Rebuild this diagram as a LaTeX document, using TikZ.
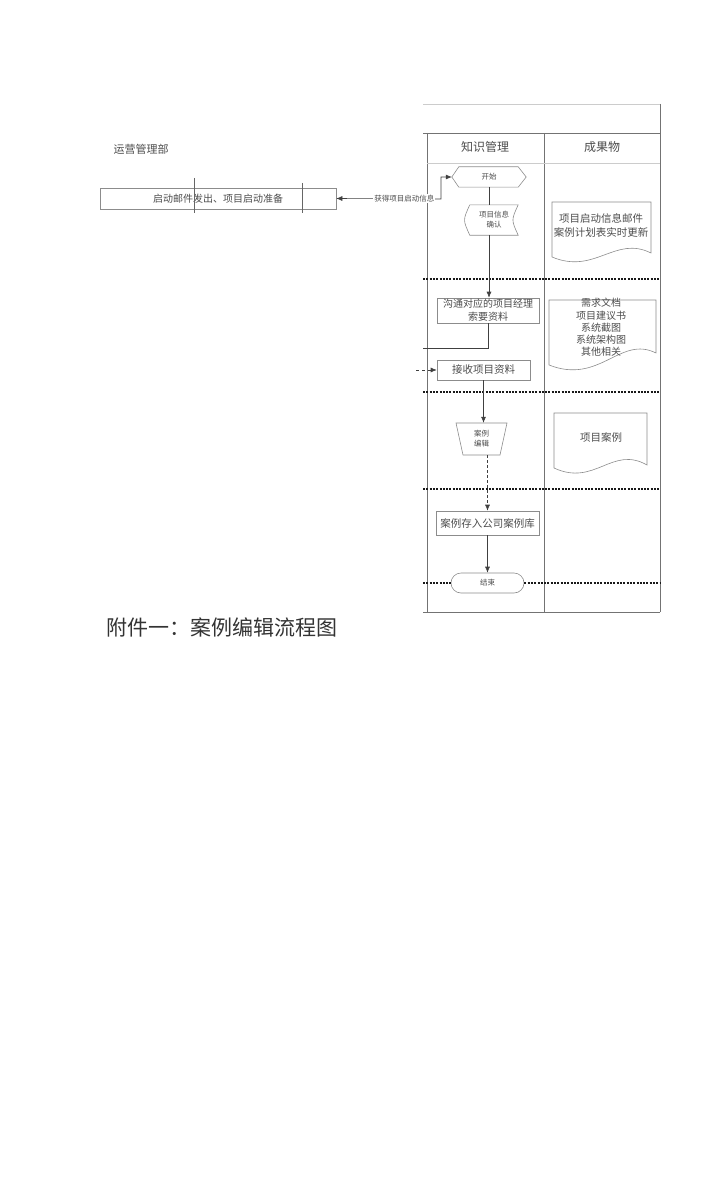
\documentclass[tikz,border=0pt]{standalone}
\usepackage{fontspec}
\newfontfamily\cjk{Noto Sans CJK SC}
\usetikzlibrary{arrows.meta}

\begin{document}
\begin{tikzpicture}[x=1pt,y=-1pt,
	lane/.style={draw=black!55, line width=0.8pt},
	sep/.style={draw=black!90, line width=2.6pt, dash pattern=on 2pt off 1.3pt},
	txt/.style={text=black!70, font=\cjk\fontsize{10}{13}\selectfont, align=center, inner sep=0pt},
	small/.style={txt, font=\cjk\fontsize{7.5}{10}\selectfont},
	box/.style={txt, draw=black!45, line width=0.6pt},
	flow/.style={draw=black!75, line width=0.6pt},
	arr/.style={flow, -{Latex[length=6pt,width=5pt]}},
	lbl/.style={small, fill=white, inner sep=1pt}]
	\useasboundingbox (0,0) rectangle (720,1185);
	% swimlanes
	\draw[lane, black!20] (423,104) -- (660,104);
	\draw[lane] (660,104) -- (660,612);
	\draw[lane] (423,133) -- (660,133);
	\draw[lane] (427,133) -- (427,612);
	\draw[lane] (544,133) -- (544,612);
	\draw[lane, black!20] (427,163) -- (660,163);
	\draw[lane] (423,612) -- (660,612);
	\node[txt, font=\cjk\fontsize{12}{14}\selectfont] (km) at (485,147) {知识管理};
	\node[txt, font=\cjk\fontsize{12}{14}\selectfont] (outp) at (602,147) {成果物};
	\draw[sep] (423,279) -- (660,279);
	\draw[sep] (423,392) -- (660,392);
	\draw[sep] (423,489) -- (660,489);

	% left department
	\node[txt, font=\cjk\fontsize{11}{13}\selectfont] (dept) at (141,149) {运营管理部};
	\node[box, minimum width=236, minimum height=21] (launch) at (218,198.5) {启动邮件发出、项目启动准备};
	\draw[black!60] (194,178) -- (194,213);
	\draw[black!60] (302,183) -- (302,213);

	% flow nodes
	\node[small, minimum width=74, minimum height=20] (start) at (489,177) {开始};
	\draw[black!45, line width=0.6pt] (start.west) -- ([xshift=7]start.north west) -- ([xshift=-8]start.north east)
		-- (start.east) -- ([xshift=-8]start.south east) -- ([xshift=7]start.south west) -- cycle;
	\node[small, minimum width=48, minimum height=30] (info) at (494,220) {项目信息\\确认};
	\draw[black!45, line width=0.6pt] (info.north west) -- (info.north east) .. controls ([xshift=-7]info.east) .. (info.south east)
		-- (info.south west) .. controls ([xshift=-7]info.west) .. (info.north west);
	\node[box, minimum width=102, minimum height=25] (comm) at (488,310.5) {沟通对应的项目经理\\索要资料};
	\node[box, minimum width=93, minimum height=20, font=\cjk\fontsize{10.5}{13}\selectfont] (recv) at (483.5,370) {接收项目资料};
	\node[small, minimum width=51, minimum height=32] (edit) at (481.5,439) {案例\\编辑};
	\draw[black!45, line width=0.6pt] (456,423) -- (507,423) -- (500,455) -- (463,455) -- cycle;
	\node[box, minimum width=103, minimum height=24, font=\cjk\fontsize{10.5}{13}\selectfont] (store) at (487.5,523) {案例存入公司案例库};
	\node[small, draw=black!45, line width=0.6pt, rounded corners=10, minimum width=73, minimum height=20] (finish) at (487.5,583) {结束};
	\draw[sep] (423,583) -- (finish.west);
	\draw[sep] (finish.east) -- (660,583);

	% outputs
	\draw[black!45, line width=0.6pt] (552,202) -- (651,202) -- (651,253) .. controls (615,235) and (595,275) .. (552,257) -- cycle;
	\node[txt, font=\cjk\fontsize{10.5}{14}\selectfont] (doc1) at (601,225) {项目启动信息邮件\\案例计划表实时更新};
	\draw[black!45, line width=0.6pt] (549,300) -- (656,300) -- (656,353) .. controls (620,335) and (600,385) .. (549,365) -- cycle;
	\node[txt, font=\cjk\fontsize{10}{12.3}\selectfont] (doc2) at (601,327.5) {需求文档\\项目建议书\\系统截图\\系统架构图\\其他相关};
	\draw[black!45, line width=0.6pt] (554,413) -- (647,413) -- (647,465) .. controls (612,445) and (595,487) .. (554,468) -- cycle;
	\node[txt, font=\cjk\fontsize{10.5}{13}\selectfont] (doc3) at (601,437) {项目案例};

	% connectors
	\coordinate (turn) at (441,199);
	\coordinate (gap) at (423,348);
	\coordinate (feed) at (416,370);
	\draw[flow, {Latex[length=6pt,width=5pt]}-{Latex[length=6pt,width=5pt]}] (launch.east) -- node[lbl, pos=0.65] {获得项目启动信息} (turn) |- (start.west);
	\draw[flow] (start.south) -- (start.south |- info.north);
	\draw[arr] (start.south |- info.south) -- (start.south |- comm.north);
	\draw[flow] (comm.south) |- (gap);
	\draw[arr, dashed] (feed) -- (recv.west);
	\draw[arr] (recv.south) -- (recv.south |- edit.north);
	\draw[arr, densely dashed] (store.north |- edit.south) -- (store.north);
	\draw[arr] (store.south) -- (finish.north);

	% caption
	\node[anchor=west, text=black!80, font=\cjk\fontsize{21}{24}\selectfont, inner sep=0pt] (title) at (106,627) {附件一：案例编辑流程图};
\end{tikzpicture}
\end{document}
